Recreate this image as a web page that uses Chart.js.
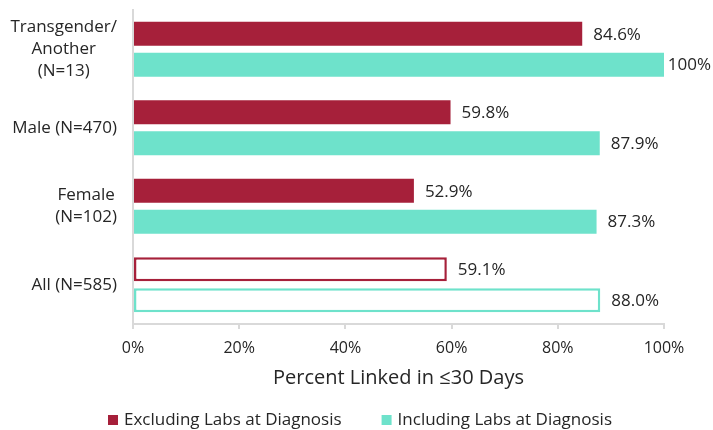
<!DOCTYPE html>
<html>
<head>
<meta charset="utf-8">
<script src="https://cdn.jsdelivr.net/npm/chart.js@4"></script>
<style>
  html, body { margin: 0; padding: 0; background: #fff; }
  #wrap { width: 713px; height: 430px; position: relative; }
</style>
</head>
<body>
<div id="wrap"><canvas id="myChart"></canvas></div>
<script>
const categories = [
    ['Transgender/', 'Another', '(N=13)'],
    ['Male (N=470)'],
    ['Female', '(N=102)'],
    ['All (N=585)']
];
const excludingLabs = [84.6, 59.8, 52.9, 59.1];
const includingLabs = [100, 87.9, 87.3, 88.0];
const xTicks = [0, 20, 40, 60, 80, 100];

const RED = '#A6203A';
const TEAL = '#6EE2CB';
const TEXT = '#262626';
const FONT = "'Open Sans', 'Noto Sans', sans-serif";

// the last row (All) is drawn as outlined bars
const isOutlined = (i) => i === categories.length - 1;
const fills = (color) => categories.map((c, i) => isOutlined(i) ? '#ffffff' : color);
const borders = categories.map((c, i) => isOutlined(i) ? 2.5 : 0);
const fmt = (v) => v === 100 ? '100%' : v.toFixed(1) + '%';

// value labels to the right of each bar, kept inside the canvas
const valueLabels = {
    id: 'valueLabels',
    afterDatasetsDraw(chart) {
        const ctx = chart.ctx;
        ctx.save();
        ctx.font = '17px ' + FONT;
        ctx.fillStyle = TEXT;
        ctx.textBaseline = 'middle';
        chart.data.datasets.forEach((ds, di) => {
            chart.getDatasetMeta(di).data.forEach((bar, i) => {
                const txt = fmt(ds.data[i]);
                const w = ctx.measureText(txt).width;
                const x = Math.min(bar.x + 11, chart.width - w - 2);
                ctx.fillText(txt, x, bar.y + 1);
            });
        });
        ctx.restore();
    }
};

// category labels: block right-aligned to the axis, lines centred inside the block
const categoryLabels = {
    id: 'categoryLabels',
    afterDraw(chart) {
        const ctx = chart.ctx;
        const yScale = chart.scales.y;
        const right = yScale.right - 16;
        const lineH = 22;
        ctx.save();
        ctx.font = '17px ' + FONT;
        ctx.fillStyle = TEXT;
        ctx.textAlign = 'center';
        ctx.textBaseline = 'middle';
        chart.data.labels.forEach((lines, i) => {
            const y = yScale.getPixelForTick(i);
            const maxW = Math.max(...lines.map(l => ctx.measureText(l).width));
            const cx = right - maxW / 2;
            lines.forEach((l, k) => {
                ctx.fillText(l, cx, y - (lines.length - 1) * lineH / 2 + k * lineH);
            });
        });
        ctx.restore();
    }
};

// legend row under the axis title
const legendRow = {
    id: 'legendRow',
    afterDraw(chart) {
        const ctx = chart.ctx;
        const box = 10, boxGap = 6, itemGap = 40, y = 420;
        ctx.save();
        ctx.font = '17px ' + FONT;
        ctx.textBaseline = 'middle';
        const items = chart.data.datasets.map(ds => ({ text: ds.label, color: ds.borderColor, w: ctx.measureText(ds.label).width }));
        const total = items.reduce((s, it) => s + box + boxGap + it.w, 0) + itemGap * (items.length - 1);
        let x = 360 - total / 2;
        items.forEach(it => {
            ctx.fillStyle = it.color;
            ctx.fillRect(x, y - box / 2, box, box);
            x += box + boxGap;
            ctx.fillStyle = TEXT;
            ctx.fillText(it.text, x, y);
            x += it.w + itemGap;
        });
        ctx.restore();
    }
};

const myChart = new Chart(document.getElementById('myChart').getContext('2d'), {
    type: 'bar',
    data: {
        labels: categories,
        datasets: [
            {
                label: 'Excluding Labs at Diagnosis',
                data: excludingLabs,
                backgroundColor: fills(RED),
                borderColor: RED,
                borderWidth: borders,
                borderSkipped: false,
                categoryPercentage: 0.784,
                barPercentage: 0.78
            },
            {
                label: 'Including Labs at Diagnosis',
                data: includingLabs,
                backgroundColor: fills(TEAL),
                borderColor: TEAL,
                borderWidth: borders,
                borderSkipped: false,
                categoryPercentage: 0.784,
                barPercentage: 0.78
            }
        ]
    },
    options: {
        indexAxis: 'y',
        responsive: true,
        maintainAspectRatio: false,
        animation: false,
        layout: { padding: { top: 10, right: 49, bottom: 36, left: 0 } },
        scales: {
            x: {
                min: 0,
                max: 100,
                afterBuildTicks: (scale) => { scale.ticks = xTicks.map(v => ({ value: v })); },
                afterFit: (scale) => { scale.height = 70; },
                ticks: {
                    callback: (v) => v + '%',
                    color: TEXT,
                    font: { family: FONT, size: 16 },
                    padding: 10,
                    maxRotation: 0
                },
                grid: { drawOnChartArea: false, drawTicks: true, tickLength: 5, color: '#d9d9d9', lineWidth: 2 },
                border: { color: '#d9d9d9', width: 2 },
                title: {
                    display: true,
                    text: 'Percent Linked in ≤30 Days',
                    color: TEXT,
                    font: { family: FONT, size: 20 },
                    padding: { top: 4, bottom: 4 }
                }
            },
            y: {
                afterFit: (scale) => { scale.width = 133; },
                ticks: { display: false },
                grid: { display: false },
                border: { color: '#d9d9d9', width: 2 }
            }
        },
        plugins: {
            legend: { display: false },
            tooltip: { enabled: false }
        }
    },
    plugins: [valueLabels, categoryLabels, legendRow]
});
</script>
</body>
</html>
